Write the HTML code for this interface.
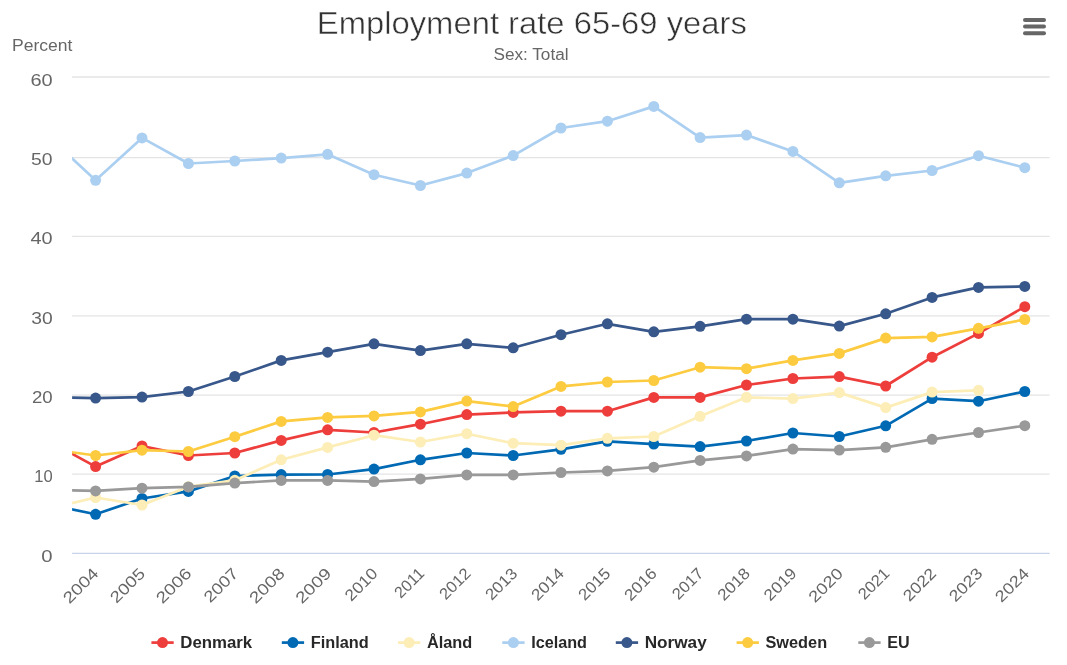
<!DOCTYPE html>
<html lang="en"><head><meta charset="utf-8"><title>Employment rate 65-69 years</title>
<style>html,body{margin:0;padding:0;background:#fff;overflow:hidden}svg{display:block}text{font-family:"Liberation Sans",sans-serif}</style></head><body>
<svg width="1067" height="665" viewBox="0 0 1067 665">
<rect width="1067" height="665" fill="#ffffff"/>
<defs><clipPath id="plot"><rect x="72.1" y="70" width="989.5" height="493.1"/></clipPath></defs>
<line x1="72.1" x2="1049.6" y1="77.0" y2="77.0" stroke="#e4e4e4" stroke-width="1.4"/>
<line x1="72.1" x2="1049.6" y1="157.6" y2="157.6" stroke="#e4e4e4" stroke-width="1.4"/>
<line x1="72.1" x2="1049.6" y1="236.4" y2="236.4" stroke="#e4e4e4" stroke-width="1.4"/>
<line x1="72.1" x2="1049.6" y1="315.9" y2="315.9" stroke="#e4e4e4" stroke-width="1.4"/>
<line x1="72.1" x2="1049.6" y1="395.1" y2="395.1" stroke="#e4e4e4" stroke-width="1.4"/>
<line x1="72.1" x2="1049.6" y1="474.1" y2="474.1" stroke="#e4e4e4" stroke-width="1.4"/>
<line x1="72.1" x2="1049.6" y1="553.30" y2="553.30" stroke="#c8d2ea" stroke-width="1.3"/>
<g clip-path="url(#plot)">
<path d="M49.2 441.4 L95.6 466.6 L142.0 446.0 L188.4 455.5 L234.8 453.0 L281.2 440.4 L327.6 429.8 L374.0 432.5 L420.4 424.2 L466.8 414.6 L513.2 412.4 L561.0 411.2 L607.4 411.2 L653.8 397.4 L700.1 397.4 L746.5 385.0 L792.9 378.5 L839.3 376.6 L885.7 386.0 L932.1 357.2 L978.5 333.4 L1024.8 306.7" fill="none" stroke="#ee3e3c" stroke-width="2.7" stroke-linejoin="round" stroke-linecap="round"/>
<g fill="#ee3e3c"><circle cx="95.6" cy="466.6" r="5.5"/><circle cx="142.0" cy="446.0" r="5.5"/><circle cx="188.4" cy="455.5" r="5.5"/><circle cx="234.8" cy="453.0" r="5.5"/><circle cx="281.2" cy="440.4" r="5.5"/><circle cx="327.6" cy="429.8" r="5.5"/><circle cx="374.0" cy="432.5" r="5.5"/><circle cx="420.4" cy="424.2" r="5.5"/><circle cx="466.8" cy="414.6" r="5.5"/><circle cx="513.2" cy="412.4" r="5.5"/><circle cx="561.0" cy="411.2" r="5.5"/><circle cx="607.4" cy="411.2" r="5.5"/><circle cx="653.8" cy="397.4" r="5.5"/><circle cx="700.1" cy="397.4" r="5.5"/><circle cx="746.5" cy="385.0" r="5.5"/><circle cx="792.9" cy="378.5" r="5.5"/><circle cx="839.3" cy="376.6" r="5.5"/><circle cx="885.7" cy="386.0" r="5.5"/><circle cx="932.1" cy="357.2" r="5.5"/><circle cx="978.5" cy="333.4" r="5.5"/><circle cx="1024.8" cy="306.7" r="5.5"/></g>
<path d="M49.2 504.7 L95.6 514.3 L142.0 498.5 L188.4 491.4 L234.8 476.0 L281.2 474.6 L327.6 474.5 L374.0 469.1 L420.4 459.8 L466.8 453.0 L513.2 455.5 L561.0 449.3 L607.4 441.3 L653.8 444.1 L700.1 446.6 L746.5 441.0 L792.9 433.0 L839.3 436.5 L885.7 425.8 L932.1 398.6 L978.5 401.2 L1024.8 391.5" fill="none" stroke="#0069b4" stroke-width="2.7" stroke-linejoin="round" stroke-linecap="round"/>
<g fill="#0069b4"><circle cx="95.6" cy="514.3" r="5.5"/><circle cx="142.0" cy="498.5" r="5.5"/><circle cx="188.4" cy="491.4" r="5.5"/><circle cx="234.8" cy="476.0" r="5.5"/><circle cx="281.2" cy="474.6" r="5.5"/><circle cx="327.6" cy="474.5" r="5.5"/><circle cx="374.0" cy="469.1" r="5.5"/><circle cx="420.4" cy="459.8" r="5.5"/><circle cx="466.8" cy="453.0" r="5.5"/><circle cx="513.2" cy="455.5" r="5.5"/><circle cx="561.0" cy="449.3" r="5.5"/><circle cx="607.4" cy="441.3" r="5.5"/><circle cx="653.8" cy="444.1" r="5.5"/><circle cx="700.1" cy="446.6" r="5.5"/><circle cx="746.5" cy="441.0" r="5.5"/><circle cx="792.9" cy="433.0" r="5.5"/><circle cx="839.3" cy="436.5" r="5.5"/><circle cx="885.7" cy="425.8" r="5.5"/><circle cx="932.1" cy="398.6" r="5.5"/><circle cx="978.5" cy="401.2" r="5.5"/><circle cx="1024.8" cy="391.5" r="5.5"/></g>
<path d="M49.2 508.5 L95.6 497.5 L142.0 505.0 L188.4 486.7 L234.8 480.3 L281.2 459.8 L327.6 447.4 L374.0 435.2 L420.4 442.0 L466.8 433.7 L513.2 443.2 L561.0 445.2 L607.4 438.3 L653.8 436.5 L700.1 416.3 L746.5 397.3 L792.9 398.6 L839.3 392.6 L885.7 407.6 L932.1 392.1 L978.5 390.3" fill="none" stroke="#fdedb6" stroke-width="2.7" stroke-linejoin="round" stroke-linecap="round"/>
<g fill="#fdedb6"><circle cx="95.6" cy="497.5" r="5.5"/><circle cx="142.0" cy="505.0" r="5.5"/><circle cx="188.4" cy="486.7" r="5.5"/><circle cx="234.8" cy="480.3" r="5.5"/><circle cx="281.2" cy="459.8" r="5.5"/><circle cx="327.6" cy="447.4" r="5.5"/><circle cx="374.0" cy="435.2" r="5.5"/><circle cx="420.4" cy="442.0" r="5.5"/><circle cx="466.8" cy="433.7" r="5.5"/><circle cx="513.2" cy="443.2" r="5.5"/><circle cx="561.0" cy="445.2" r="5.5"/><circle cx="607.4" cy="438.3" r="5.5"/><circle cx="653.8" cy="436.5" r="5.5"/><circle cx="700.1" cy="416.3" r="5.5"/><circle cx="746.5" cy="397.3" r="5.5"/><circle cx="792.9" cy="398.6" r="5.5"/><circle cx="839.3" cy="392.6" r="5.5"/><circle cx="885.7" cy="407.6" r="5.5"/><circle cx="932.1" cy="392.1" r="5.5"/><circle cx="978.5" cy="390.3" r="5.5"/></g>
<path d="M49.2 137.1 L95.6 180.3 L142.0 137.9 L188.4 163.5 L234.8 161.0 L281.2 158.1 L327.6 154.3 L374.0 174.7 L420.4 185.5 L466.8 173.1 L513.2 155.6 L561.0 128.0 L607.4 121.2 L653.8 106.4 L700.1 137.6 L746.5 135.1 L792.9 151.4 L839.3 182.8 L885.7 175.8 L932.1 170.5 L978.5 155.7 L1024.8 167.7" fill="none" stroke="#abcff1" stroke-width="2.7" stroke-linejoin="round" stroke-linecap="round"/>
<g fill="#abcff1"><circle cx="95.6" cy="180.3" r="5.5"/><circle cx="142.0" cy="137.9" r="5.5"/><circle cx="188.4" cy="163.5" r="5.5"/><circle cx="234.8" cy="161.0" r="5.5"/><circle cx="281.2" cy="158.1" r="5.5"/><circle cx="327.6" cy="154.3" r="5.5"/><circle cx="374.0" cy="174.7" r="5.5"/><circle cx="420.4" cy="185.5" r="5.5"/><circle cx="466.8" cy="173.1" r="5.5"/><circle cx="513.2" cy="155.6" r="5.5"/><circle cx="561.0" cy="128.0" r="5.5"/><circle cx="607.4" cy="121.2" r="5.5"/><circle cx="653.8" cy="106.4" r="5.5"/><circle cx="700.1" cy="137.6" r="5.5"/><circle cx="746.5" cy="135.1" r="5.5"/><circle cx="792.9" cy="151.4" r="5.5"/><circle cx="839.3" cy="182.8" r="5.5"/><circle cx="885.7" cy="175.8" r="5.5"/><circle cx="932.1" cy="170.5" r="5.5"/><circle cx="978.5" cy="155.7" r="5.5"/><circle cx="1024.8" cy="167.7" r="5.5"/></g>
<path d="M49.2 397.2 L95.6 398.1 L142.0 397.1 L188.4 391.5 L234.8 376.5 L281.2 360.4 L327.6 352.2 L374.0 343.8 L420.4 350.6 L466.8 343.8 L513.2 347.8 L561.0 334.7 L607.4 323.8 L653.8 331.8 L700.1 326.3 L746.5 319.2 L792.9 319.2 L839.3 326.1 L885.7 313.8 L932.1 297.4 L978.5 287.4 L1024.8 286.4" fill="none" stroke="#38578a" stroke-width="2.7" stroke-linejoin="round" stroke-linecap="round"/>
<g fill="#38578a"><circle cx="95.6" cy="398.1" r="5.5"/><circle cx="142.0" cy="397.1" r="5.5"/><circle cx="188.4" cy="391.5" r="5.5"/><circle cx="234.8" cy="376.5" r="5.5"/><circle cx="281.2" cy="360.4" r="5.5"/><circle cx="327.6" cy="352.2" r="5.5"/><circle cx="374.0" cy="343.8" r="5.5"/><circle cx="420.4" cy="350.6" r="5.5"/><circle cx="466.8" cy="343.8" r="5.5"/><circle cx="513.2" cy="347.8" r="5.5"/><circle cx="561.0" cy="334.7" r="5.5"/><circle cx="607.4" cy="323.8" r="5.5"/><circle cx="653.8" cy="331.8" r="5.5"/><circle cx="700.1" cy="326.3" r="5.5"/><circle cx="746.5" cy="319.2" r="5.5"/><circle cx="792.9" cy="319.2" r="5.5"/><circle cx="839.3" cy="326.1" r="5.5"/><circle cx="885.7" cy="313.8" r="5.5"/><circle cx="932.1" cy="297.4" r="5.5"/><circle cx="978.5" cy="287.4" r="5.5"/><circle cx="1024.8" cy="286.4" r="5.5"/></g>
<path d="M49.2 449.1 L95.6 455.5 L142.0 450.2 L188.4 451.5 L234.8 436.7 L281.2 421.4 L327.6 417.4 L374.0 415.9 L420.4 411.9 L466.8 401.1 L513.2 406.6 L561.0 386.4 L607.4 382.0 L653.8 380.5 L700.1 367.2 L746.5 368.7 L792.9 360.4 L839.3 353.4 L885.7 338.1 L932.1 336.9 L978.5 328.3 L1024.8 319.5" fill="none" stroke="#fdcb3f" stroke-width="2.7" stroke-linejoin="round" stroke-linecap="round"/>
<g fill="#fdcb3f"><circle cx="95.6" cy="455.5" r="5.5"/><circle cx="142.0" cy="450.2" r="5.5"/><circle cx="188.4" cy="451.5" r="5.5"/><circle cx="234.8" cy="436.7" r="5.5"/><circle cx="281.2" cy="421.4" r="5.5"/><circle cx="327.6" cy="417.4" r="5.5"/><circle cx="374.0" cy="415.9" r="5.5"/><circle cx="420.4" cy="411.9" r="5.5"/><circle cx="466.8" cy="401.1" r="5.5"/><circle cx="513.2" cy="406.6" r="5.5"/><circle cx="561.0" cy="386.4" r="5.5"/><circle cx="607.4" cy="382.0" r="5.5"/><circle cx="653.8" cy="380.5" r="5.5"/><circle cx="700.1" cy="367.2" r="5.5"/><circle cx="746.5" cy="368.7" r="5.5"/><circle cx="792.9" cy="360.4" r="5.5"/><circle cx="839.3" cy="353.4" r="5.5"/><circle cx="885.7" cy="338.1" r="5.5"/><circle cx="932.1" cy="336.9" r="5.5"/><circle cx="978.5" cy="328.3" r="5.5"/><circle cx="1024.8" cy="319.5" r="5.5"/></g>
<path d="M49.2 489.9 L95.6 490.9 L142.0 488.2 L188.4 486.9 L234.8 483.1 L281.2 480.4 L327.6 480.4 L374.0 481.6 L420.4 478.9 L466.8 474.9 L513.2 474.9 L561.0 472.5 L607.4 470.9 L653.8 467.2 L700.1 460.4 L746.5 455.9 L792.9 449.1 L839.3 450.1 L885.7 447.3 L932.1 439.3 L978.5 432.5 L1024.8 425.7" fill="none" stroke="#999999" stroke-width="2.7" stroke-linejoin="round" stroke-linecap="round"/>
<g fill="#999999"><circle cx="95.6" cy="490.9" r="5.5"/><circle cx="142.0" cy="488.2" r="5.5"/><circle cx="188.4" cy="486.9" r="5.5"/><circle cx="234.8" cy="483.1" r="5.5"/><circle cx="281.2" cy="480.4" r="5.5"/><circle cx="327.6" cy="480.4" r="5.5"/><circle cx="374.0" cy="481.6" r="5.5"/><circle cx="420.4" cy="478.9" r="5.5"/><circle cx="466.8" cy="474.9" r="5.5"/><circle cx="513.2" cy="474.9" r="5.5"/><circle cx="561.0" cy="472.5" r="5.5"/><circle cx="607.4" cy="470.9" r="5.5"/><circle cx="653.8" cy="467.2" r="5.5"/><circle cx="700.1" cy="460.4" r="5.5"/><circle cx="746.5" cy="455.9" r="5.5"/><circle cx="792.9" cy="449.1" r="5.5"/><circle cx="839.3" cy="450.1" r="5.5"/><circle cx="885.7" cy="447.3" r="5.5"/><circle cx="932.1" cy="439.3" r="5.5"/><circle cx="978.5" cy="432.5" r="5.5"/><circle cx="1024.8" cy="425.7" r="5.5"/></g>
</g>
<text x="531.8" y="34.0" text-anchor="middle" font-size="32" fill="#333333" stroke="#ffffff" stroke-width="0.5" textLength="430" lengthAdjust="spacingAndGlyphs">Employment rate 65-69 years</text>
<text x="531" y="60" text-anchor="middle" font-size="16" fill="#666666" textLength="75" lengthAdjust="spacingAndGlyphs">Sex: Total</text>
<text x="12" y="50.8" font-size="16" fill="#666666" textLength="60.4" lengthAdjust="spacingAndGlyphs">Percent</text>
<text x="52.6" y="85.5" text-anchor="end" font-size="16" fill="#666666" textLength="22.2" lengthAdjust="spacingAndGlyphs">60</text>
<text x="52.6" y="164.8" text-anchor="end" font-size="16" fill="#666666" textLength="21.5" lengthAdjust="spacingAndGlyphs">50</text>
<text x="52.6" y="244.2" text-anchor="end" font-size="16" fill="#666666" textLength="22.1" lengthAdjust="spacingAndGlyphs">40</text>
<text x="52.6" y="323.5" text-anchor="end" font-size="16" fill="#666666" textLength="21.4" lengthAdjust="spacingAndGlyphs">30</text>
<text x="52.6" y="402.8" text-anchor="end" font-size="16" fill="#666666" textLength="20.7" lengthAdjust="spacingAndGlyphs">20</text>
<text x="52.6" y="482.1" text-anchor="end" font-size="16" fill="#666666" textLength="18.4" lengthAdjust="spacingAndGlyphs">10</text>
<text x="52.6" y="561.5" text-anchor="end" font-size="16" fill="#666666" textLength="11.3" lengthAdjust="spacingAndGlyphs">0</text>
<text transform="translate(99.6 574.5) rotate(-45)" text-anchor="end" font-size="16" fill="#666666" textLength="42.5" lengthAdjust="spacingAndGlyphs">2004</text>
<text transform="translate(146.1 574.5) rotate(-45)" text-anchor="end" font-size="16" fill="#666666" textLength="41.9" lengthAdjust="spacingAndGlyphs">2005</text>
<text transform="translate(192.6 574.5) rotate(-45)" text-anchor="end" font-size="16" fill="#666666" textLength="42.6" lengthAdjust="spacingAndGlyphs">2006</text>
<text transform="translate(239.2 574.5) rotate(-45)" text-anchor="end" font-size="16" fill="#666666" textLength="41.1" lengthAdjust="spacingAndGlyphs">2007</text>
<text transform="translate(285.7 574.5) rotate(-45)" text-anchor="end" font-size="16" fill="#666666" textLength="42.5" lengthAdjust="spacingAndGlyphs">2008</text>
<text transform="translate(332.2 574.5) rotate(-45)" text-anchor="end" font-size="16" fill="#666666" textLength="42.6" lengthAdjust="spacingAndGlyphs">2009</text>
<text transform="translate(378.7 574.5) rotate(-45)" text-anchor="end" font-size="16" fill="#666666" textLength="38.8" lengthAdjust="spacingAndGlyphs">2010</text>
<text transform="translate(425.3 574.5) rotate(-45)" text-anchor="end" font-size="16" fill="#666666" textLength="34.6" lengthAdjust="spacingAndGlyphs">2011</text>
<text transform="translate(471.8 574.5) rotate(-45)" text-anchor="end" font-size="16" fill="#666666" textLength="36.9" lengthAdjust="spacingAndGlyphs">2012</text>
<text transform="translate(518.3 574.5) rotate(-45)" text-anchor="end" font-size="16" fill="#666666" textLength="37.6" lengthAdjust="spacingAndGlyphs">2013</text>
<text transform="translate(564.9 574.5) rotate(-45)" text-anchor="end" font-size="16" fill="#666666" textLength="38.3" lengthAdjust="spacingAndGlyphs">2014</text>
<text transform="translate(611.4 574.5) rotate(-45)" text-anchor="end" font-size="16" fill="#666666" textLength="37.7" lengthAdjust="spacingAndGlyphs">2015</text>
<text transform="translate(657.9 574.5) rotate(-45)" text-anchor="end" font-size="16" fill="#666666" textLength="38.4" lengthAdjust="spacingAndGlyphs">2016</text>
<text transform="translate(704.5 574.5) rotate(-45)" text-anchor="end" font-size="16" fill="#666666" textLength="36.9" lengthAdjust="spacingAndGlyphs">2017</text>
<text transform="translate(751.0 574.5) rotate(-45)" text-anchor="end" font-size="16" fill="#666666" textLength="38.3" lengthAdjust="spacingAndGlyphs">2018</text>
<text transform="translate(797.5 574.5) rotate(-45)" text-anchor="end" font-size="16" fill="#666666" textLength="38.4" lengthAdjust="spacingAndGlyphs">2019</text>
<text transform="translate(844.0 574.5) rotate(-45)" text-anchor="end" font-size="16" fill="#666666" textLength="41.1" lengthAdjust="spacingAndGlyphs">2020</text>
<text transform="translate(890.6 574.5) rotate(-45)" text-anchor="end" font-size="16" fill="#666666" textLength="36.9" lengthAdjust="spacingAndGlyphs">2021</text>
<text transform="translate(937.1 574.5) rotate(-45)" text-anchor="end" font-size="16" fill="#666666" textLength="39.2" lengthAdjust="spacingAndGlyphs">2022</text>
<text transform="translate(983.6 574.5) rotate(-45)" text-anchor="end" font-size="16" fill="#666666" textLength="39.9" lengthAdjust="spacingAndGlyphs">2023</text>
<text transform="translate(1030.2 574.5) rotate(-45)" text-anchor="end" font-size="16" fill="#666666" textLength="40.6" lengthAdjust="spacingAndGlyphs">2024</text>
<line x1="151.4" x2="173.7" y1="642.6" y2="642.6" stroke="#ee3e3c" stroke-width="2.7"/>
<circle cx="162.5" cy="642.6" r="5.5" fill="#ee3e3c"/>
<text x="180.3" y="647.8" font-size="16" font-weight="bold" fill="#282828" textLength="71.9" lengthAdjust="spacingAndGlyphs">Denmark</text>
<line x1="281.8" x2="304.1" y1="642.6" y2="642.6" stroke="#0069b4" stroke-width="2.7"/>
<circle cx="292.9" cy="642.6" r="5.5" fill="#0069b4"/>
<text x="310.7" y="647.8" font-size="16" font-weight="bold" fill="#282828" textLength="58.0" lengthAdjust="spacingAndGlyphs">Finland</text>
<line x1="398.0" x2="420.3" y1="642.6" y2="642.6" stroke="#fdedb6" stroke-width="2.7"/>
<circle cx="409.1" cy="642.6" r="5.5" fill="#fdedb6"/>
<text x="426.9" y="647.8" font-size="16" font-weight="bold" fill="#282828" textLength="45.3" lengthAdjust="spacingAndGlyphs">Åland</text>
<line x1="502.3" x2="524.6" y1="642.6" y2="642.6" stroke="#abcff1" stroke-width="2.7"/>
<circle cx="513.4" cy="642.6" r="5.5" fill="#abcff1"/>
<text x="531.2" y="647.8" font-size="16" font-weight="bold" fill="#282828" textLength="55.8" lengthAdjust="spacingAndGlyphs">Iceland</text>
<line x1="615.8" x2="638.1" y1="642.6" y2="642.6" stroke="#38578a" stroke-width="2.7"/>
<circle cx="626.9" cy="642.6" r="5.5" fill="#38578a"/>
<text x="644.7" y="647.8" font-size="16" font-weight="bold" fill="#282828" textLength="62.0" lengthAdjust="spacingAndGlyphs">Norway</text>
<line x1="736.6" x2="758.9" y1="642.6" y2="642.6" stroke="#fdcb3f" stroke-width="2.7"/>
<circle cx="747.7" cy="642.6" r="5.5" fill="#fdcb3f"/>
<text x="765.5" y="647.8" font-size="16" font-weight="bold" fill="#282828" textLength="61.6" lengthAdjust="spacingAndGlyphs">Sweden</text>
<line x1="858.3" x2="880.6" y1="642.6" y2="642.6" stroke="#999999" stroke-width="2.7"/>
<circle cx="869.4" cy="642.6" r="5.5" fill="#999999"/>
<text x="887.2" y="647.8" font-size="16" font-weight="bold" fill="#282828" textLength="22.4" lengthAdjust="spacingAndGlyphs">EU</text>
<line x1="1025" x2="1044" y1="19.9" y2="19.9" stroke="#666666" stroke-width="4" stroke-linecap="round"/>
<line x1="1025" x2="1044" y1="26.6" y2="26.6" stroke="#666666" stroke-width="4" stroke-linecap="round"/>
<line x1="1025" x2="1044" y1="33.3" y2="33.3" stroke="#666666" stroke-width="4" stroke-linecap="round"/>
</svg></body></html>
